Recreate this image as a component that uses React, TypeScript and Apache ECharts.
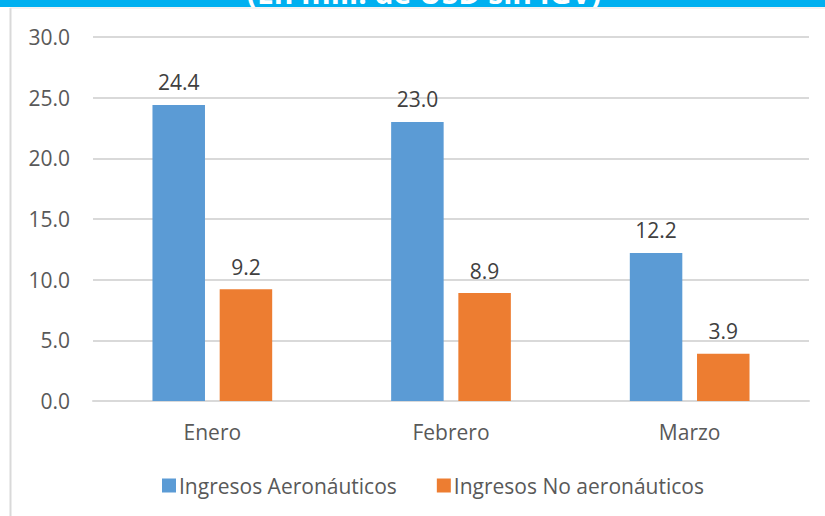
import React, { useEffect, useRef } from "react";
import * as echarts from "echarts";

const categories = ["Enero", "Febrero", "Marzo"];
const aeronauticos = [24.4, 23.0, 12.2];
const noAeronauticos = [9.2, 8.9, 3.9];
const seriesNames = ["Ingresos Aeronáuticos", "Ingresos No aeronáuticos"];
const titleText = "(En mill. de USD sin IGV)";

export default function App() {
  const ref = useRef<HTMLDivElement>(null);
  useEffect(() => {
    const chart = echarts.init(ref.current!, null, { renderer: "svg" });
    const font = "'Open Sans', sans-serif";
    const labelFmt = (p: any) => Number(p.value).toFixed(1);
    chart.setOption({
      animation: false,
      backgroundColor: "#ffffff",
      textStyle: { fontFamily: font },
      graphic: [
        { type: "rect", z: 5, shape: { x: 0, y: 0, width: 825, height: 7 }, style: { fill: "#00B0F0" } },
        {
          type: "text",
          x: 424,
          y: 7,
          z: 10,
          style: {
            text: titleText,
            fill: "#ffffff",
            font: "bold 30px 'Open Sans', sans-serif",
            align: "center",
            verticalAlign: "bottom",
          },
        },
        { type: "rect", z: 11, shape: { x: 0, y: 7, width: 825, height: 20 }, style: { fill: "#ffffff" } },
        { type: "line", z: 12, shape: { x1: 10.5, y1: 8, x2: 10.5, y2: 516 }, style: { stroke: "#D9D9D9", lineWidth: 2 } },
        { type: "line", z: 12, shape: { x1: 10, y1: 8, x2: 825, y2: 8 }, style: { stroke: "#E6E6E6", lineWidth: 1 } },
      ],
      grid: { left: 93, right: 16, top: 37, bottom: 115, containLabel: false },
      legend: {
        bottom: 15,
        left: 157,
        itemWidth: 14,
        itemHeight: 14,
        itemGap: 40,
        icon: "rect",
        textStyle: { fontSize: 21, color: "#595959", fontFamily: font, padding: [0, 0, 0, -2] },
        data: seriesNames,
      },
      xAxis: {
        type: "category",
        data: categories,
        axisLine: { lineStyle: { color: "#D9D9D9", width: 2 } },
        axisTick: { show: false },
        axisLabel: { fontSize: 21, color: "#595959", margin: 20, fontFamily: font },
      },
      yAxis: {
        type: "value",
        min: 0,
        max: 30,
        interval: 5,
        axisLine: { show: false },
        axisTick: { show: false },
        splitLine: { lineStyle: { color: "#D9D9D9", width: 2 } },
        axisLabel: {
          fontSize: 21,
          color: "#595959",
          margin: 23,
          fontFamily: font,
          formatter: (v: number) => v.toFixed(1),
        },
      },
      series: [
        {
          name: seriesNames[0],
          type: "bar",
          data: aeronauticos,
          barWidth: "22%",
          barGap: "28%",
          itemStyle: { color: "#5B9BD5" },
          label: {
            show: true,
            position: "top",
            distance: 12,
            fontSize: 21,
            color: "#404040",
            fontFamily: font,
            formatter: labelFmt,
          },
        },
        {
          name: seriesNames[1],
          type: "bar",
          data: noAeronauticos,
          barWidth: "22%",
          itemStyle: { color: "#ED7D31" },
          label: {
            show: true,
            position: "top",
            distance: 12,
            fontSize: 21,
            color: "#404040",
            fontFamily: font,
            formatter: labelFmt,
          },
        },
      ],
    });
    return () => chart.dispose();
  }, []);
  return (
    <div
      ref={ref}
      style={{ position: "fixed", left: 0, top: 0, width: 825, height: 516 }}
    />
  );
}
